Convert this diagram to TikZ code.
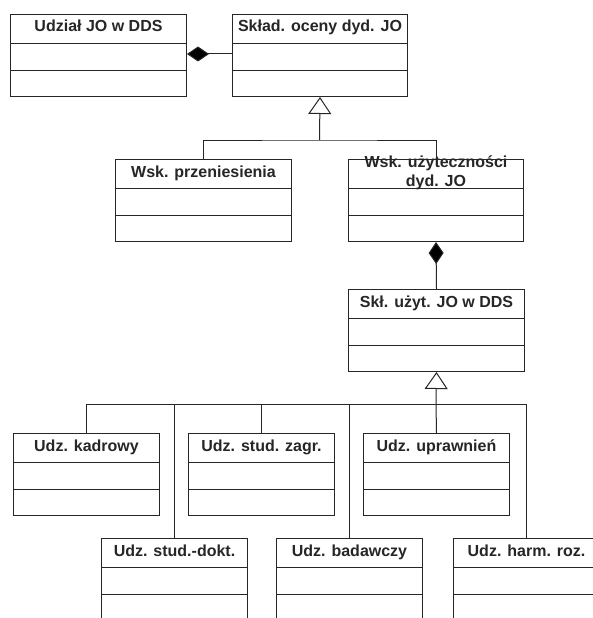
\documentclass[tikz,border=0pt]{standalone}
\usepackage{fontspec}
\setmainfont{Liberation Sans}
\usetikzlibrary{arrows.meta}
\tikzset{
  cls/.style={draw=black!85, line width=1pt, rectangle, minimum height=82pt, inner sep=0pt, fill=white},
  sepline/.style={draw=black!85, line width=1pt},
  ttl/.style={font=\bfseries\fontsize{16}{19}\selectfont, text=black!85, align=center, inner sep=0pt, text height=11.5pt, text depth=3.5pt},
  conn/.style={draw=black!85, line width=1pt},
  comp/.style={conn, -{Diamond[length=22pt,width=15pt,fill=black]}},
  gen/.style={conn, -{Triangle[open,length=17pt,width=23pt,fill=white]}},
}
\newcommand\umlbox[5]{%
  \node[cls, minimum width=#4pt, anchor=north west] (#1) at (#2,#3) {};
  \draw[sepline] ([yshift=-29.5pt]#1.north west) -- ([yshift=-29.5pt]#1.north east);
  \draw[sepline] ([yshift=-56pt]#1.north west) -- ([yshift=-56pt]#1.north east);
  \node[ttl] (#1t) at ([yshift=-14pt]#1.north) {#5};
}
\begin{document}
\begin{tikzpicture}[x=1pt,y=-1pt]
\useasboundingbox[fill=white] (0,0) rectangle (593,618);
% top row
\umlbox{udz}{10}{14}{176}{Udział JO w DDS}
\umlbox{skl}{232}{14}{175}{Skład. oceny dyd. JO}
% second row
\umlbox{wp}{115}{159}{176}{Wsk. przeniesienia}
\node[cls, minimum width=175pt, anchor=north west] (wu) at (348,159) {};
\draw[sepline] ([yshift=-29.5pt]wu.north west) -- ([yshift=-29.5pt]wu.north east);
\draw[sepline] ([yshift=-56pt]wu.north west) -- ([yshift=-56pt]wu.north east);
\node[font=\bfseries\fontsize{16}{19}\selectfont, text=black!85, align=center, inner sep=0pt] (wut) at ([yshift=-14pt]wu.north) {Wsk. użyteczności\\dyd. JO};
% third
\umlbox{sku}{348}{289}{176}{Skł. użyt. JO w DDS}
% row four
\umlbox{kad}{13}{433}{146}{Udz. kadrowy}
\umlbox{zag}{188}{433}{146}{Udz. stud. zagr.}
\umlbox{upr}{363}{433}{146}{Udz. uprawnień}
% row five
\umlbox{dok}{101}{538}{146}{Udz. stud.-dokt.}
\umlbox{bad}{276}{538}{146}{Udz. badawczy}
\umlbox{har}{453}{538}{146}{Udz. harm. roz.}
% composition top
\draw[comp] ([yshift=-40pt]skl.north west) -- ([yshift=-40pt]udz.north east);
% generalization 1
\coordinate (j1) at (319.5,140);
\draw[gen] (j1) -- (skl.south);
\draw[conn] (wp.north) |- (j1) -| (wu.north);
% composition 2
\draw[comp] (sku.north) -- (wu.south);
% generalization 2
\coordinate (j2) at (436,404);
\draw[gen] (j2) -- (sku.south);
\draw[conn] (kad.north) |- (j2);
\draw[conn] (dok.north) |- (j2);
\draw[conn] (zag.north) |- (j2);
\draw[conn] (bad.north) |- (j2);
\draw[conn] (upr.north) -- (j2);
\draw[conn] (har.north) |- (j2);
\end{tikzpicture}
\end{document}
